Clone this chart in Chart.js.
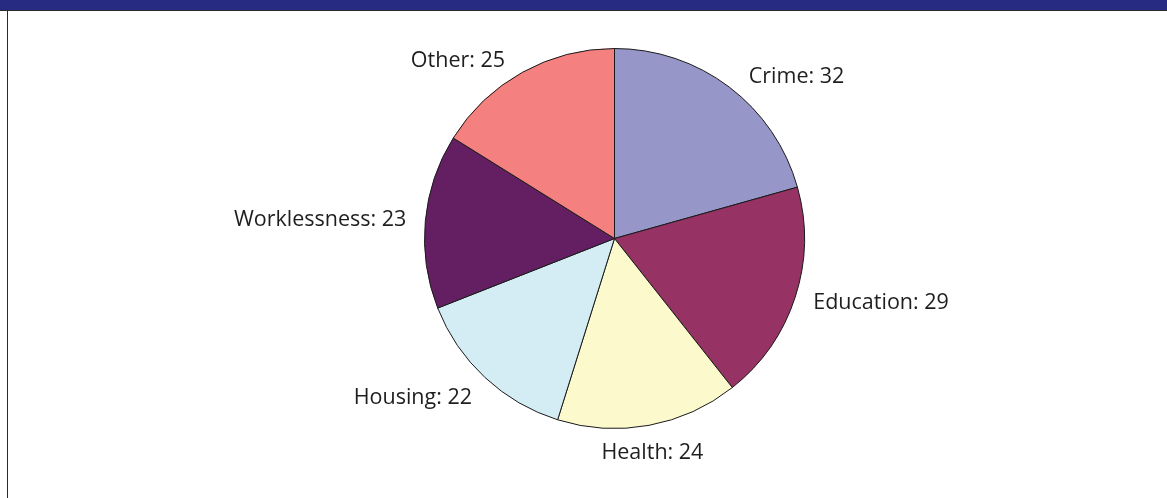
<!DOCTYPE html>
<html>
<head>
<meta charset="utf-8">
<script src="https://cdn.jsdelivr.net/npm/chart.js@4.4.1/dist/chart.umd.min.js"></script>
<style>
    html, body {
        margin: 0;
        padding: 0;
        background: #ffffff;
    }
    .frame {
        position: relative;
        width: 1167px;
        height: 498px;
        overflow: hidden;
    }
    .header {
        position: absolute;
        left: 0;
        top: 0;
        width: 1167px;
        height: 10px;
        background: #272c82;
        border-bottom: 1px solid #2b2b2b;
    }
    .edge {
        position: absolute;
        left: 7px;
        top: 11px;
        width: 1px;
        height: 487px;
        background: #2b2b2b;
    }
    canvas {
        position: absolute;
        left: 0;
        top: 0;
    }
</style>
</head>
<body>
<div class="frame">
    <div class="header"></div>
    <div class="edge"></div>
    <canvas id="pieChart" width="1167" height="498"></canvas>
</div>
<script>
const categories = ['Crime', 'Education', 'Health', 'Housing', 'Worklessness', 'Other'];
const values = [32, 29, 24, 22, 23, 25];
const sliceColors = ['#9696c8', '#963264', '#fcf9cd', '#d4ecf3', '#631f62', '#f48080'];

// labels sit just outside the rim, pushed away from the pie
const outsideLabels = {
    id: 'outsideLabels',
    afterDatasetsDraw(chart) {
        const ctx = chart.ctx;
        const arcs = chart.getDatasetMeta(0).data;
        const h = 18;
        ctx.save();
        ctx.font = '21.5px "Open Sans", "Noto Sans", sans-serif';
        ctx.fillStyle = '#1e1e1e';
        ctx.textBaseline = 'middle';
        arcs.forEach((arc, i) => {
            const p = arc.getProps(['x', 'y', 'startAngle', 'endAngle', 'outerRadius'], true);
            const mid = (p.startAngle + p.endAngle) / 2;
            const dx = Math.cos(mid);
            const dy = Math.sin(mid);
            const r = p.outerRadius * 1.1;
            let ax = p.x + dx * r;
            let ay = p.y + dy * r;
            if (dy > 0.5) {
                ay += (h / 2) * dy;
            } else if (dy < -0.5) {
                ax += dx > 0 ? 8 : -8;
                ay += 5;
            }
            ctx.textAlign = dx > 0.25 ? 'left' : (dx < -0.25 ? 'right' : 'center');
            ctx.fillText(categories[i] + ': ' + values[i], ax, ay);
        });
        ctx.restore();
    },
};

new Chart(document.getElementById('pieChart'), {
    type: 'pie',
    data: {
        labels: categories,
        datasets: [
            {
                data: values,
                backgroundColor: sliceColors,
                borderColor: '#1a1a1a',
                borderWidth: 1,
            },
        ],
    },
    options: {
        responsive: false,
        animation: false,
        layout: {
            padding: { left: 100, right: 38, top: 48, bottom: 69 },
        },
        plugins: {
            legend: { display: false },
            tooltip: { enabled: false },
        },
    },
    plugins: [outsideLabels],
});
</script>
</body>
</html>
